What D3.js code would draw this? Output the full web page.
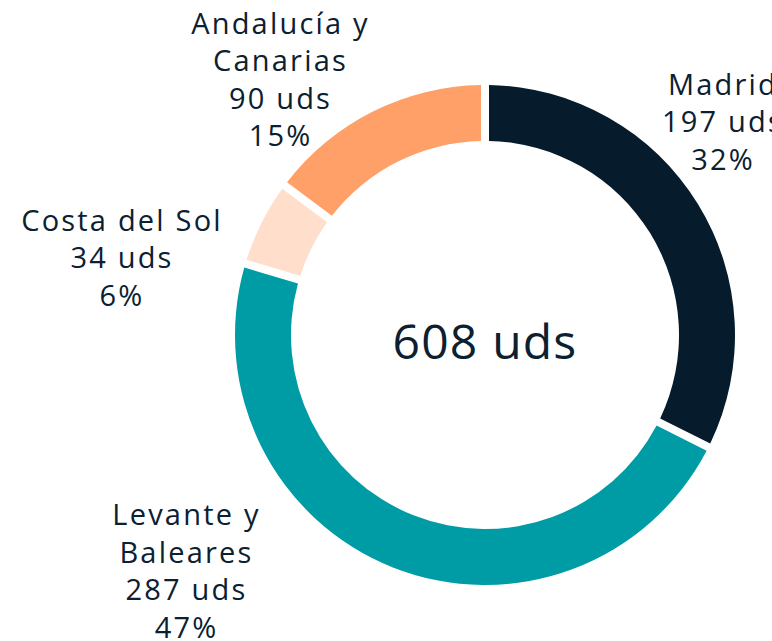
<!DOCTYPE html>
<html>
<head>
  <meta charset="utf-8">
  <title>donut</title>
  <script src="https://d3js.org/d3.v7.min.js"></script>
  <style>
    body { margin: 0; background: #fff; }
    svg text { font-family: "Open Sans", sans-serif; fill: #0b2030; }
  </style>
</head>
<body>
<div id="chart"></div>
<script>
// data
var regions = ["Madrid", "Levante y\nBaleares", "Costa del Sol", "Andalucía y\nCanarias"];
var units = [197, 287, 34, 90];
var colors = ["#061c2c", "#009ca6", "#ffdfcb", "#ffa068"];

var width = 772, height = 641;
var cx = 485, cy = 335,
    outerR = 250, innerR = 194;

// label block position (first line centre), offset from chart centre
var labelPos = [[238, -250.5], [-298.5, 180], [-363, -114.5], [-204.5, -311.5]];

var svg = d3.select("#chart").append("svg")
    .attr("width", width)
    .attr("height", height);

var g = svg.append("g")
    .attr("transform", "translate(" + cx + "," + cy + ")");

var total = d3.sum(units);
var data = units.map(function(v, i) { return {name: regions[i], value: v, i: i}; });

var pie = d3.pie().sort(null).value(function(d) { return d.value; });
var arc = d3.arc()
    .innerRadius(innerR)
    .outerRadius(outerR)
    .padAngle(8 / Math.sqrt(innerR * innerR + outerR * outerR));

g.selectAll("path")
  .data(pie(data))
  .enter().append("path")
    .attr("d", arc)
    .attr("fill", function(d) { return colors[d.data.i]; });

// centre total
g.append("text")
    .attr("text-anchor", "middle")
    .attr("dy", "0.35em")
    .attr("y", 7)
    .style("font-size", "48px")
    .style("letter-spacing", "1.2px")
    .text(total + " uds");

// labels
var lineH = 37.5;
var labels = g.selectAll(".lbl")
  .data(data)
  .enter().append("text")
    .attr("class", "lbl")
    .attr("text-anchor", "middle")
    .style("font-size", "29px")
    .style("letter-spacing", "2.2px");

labels.each(function(d) {
  var lines = d.name.split("\n");
  lines.push(d.value + " uds");
  lines.push(Math.round(d.value / total * 100) + "%");
  var t = d3.select(this);
  lines.forEach(function(l, k) {
    t.append("tspan")
      .attr("x", labelPos[d.i][0])
      .attr("y", labelPos[d.i][1] + k * lineH)
      .attr("dy", "0.35em")
      .text(l);
  });
});
</script>
</body>
</html>
